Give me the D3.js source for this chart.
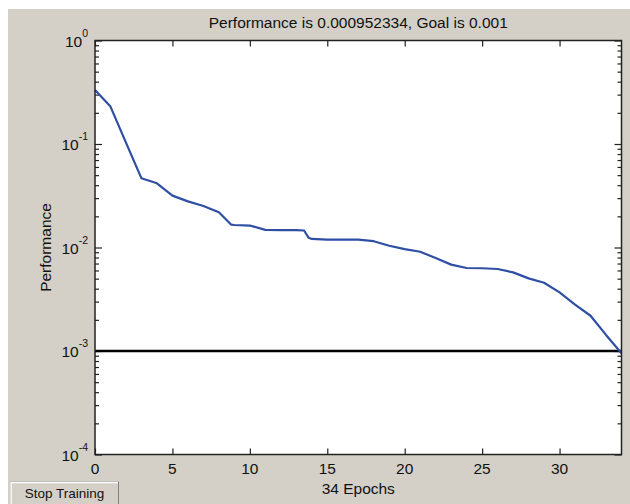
<!DOCTYPE html>
<html>
<head>
<meta charset="utf-8">
<script src="https://cdn.jsdelivr.net/npm/d3@7"></script>
<style>
  html, body { margin: 0; padding: 0; background: #ffffff; }
  svg { display: block; font-family: "Liberation Sans", Arial, sans-serif; }
</style>
</head>
<body>
<svg id="chart" width="630" height="504"></svg>
<script>
// ---- data ----
const epochs = [0,1,2,3,4,5,6,7,8,8.8,9,10,11,12,13,13.5,13.8,14,15,16,17,18,19,20,21,22,23,24,25,26,27,28,29,30,31,32,33,34];
const performance = [0.333, 0.23, 0.103, 0.0466, 0.0417, 0.0317, 0.0279, 0.0252, 0.0219, 0.0166, 0.0165,
  0.0163, 0.0148, 0.0147, 0.0147, 0.0146, 0.0124, 0.0121, 0.0119, 0.0119, 0.0119, 0.0115, 0.0104,
  0.00966, 0.0091, 0.0079, 0.00683, 0.00634, 0.0063, 0.0062, 0.00575, 0.00503, 0.00457,
  0.00368, 0.0028, 0.00219, 0.00143, 0.000952334];
const goal = 0.001;
const xTicks = [0, 5, 10, 15, 20, 25, 30];
const yDecades = [-4, -3, -2, -1, 0];
const titleText = "Performance is 0.000952334, Goal is 0.001";
const xLabel = "34 Epochs";
const yLabel = "Performance";
const buttonLabel = "Stop Training";

// ---- layout ----
const W = 630, H = 504;
const L = 95, R = 621.5, T = 40.5, B = 454.5;
const svg = d3.select("#chart");

// figure background
svg.append("rect").attr("x", 8).attr("y", 9).attr("width", W - 8).attr("height", H - 9).attr("fill", "#d4d0c8");
// plot background
svg.append("rect").attr("x", L).attr("y", T).attr("width", R - L).attr("height", B - T).attr("fill", "#ffffff");

const x = d3.scaleLinear().domain([0, 34]).range([L, R]);
const y = d3.scaleLog().domain([1e-4, 1]).range([B, T]);

const majorVals = yDecades.map(d => Math.pow(10, d));
const minorVals = [];
yDecades.slice(0, -1).forEach(d => { for (let m = 2; m <= 9; m++) minorVals.push(m * Math.pow(10, d)); });

const axisColor = "#222";
function styleAxis(g) {
  g.select(".domain").remove();
  g.selectAll(".tick line").attr("stroke", axisColor).attr("stroke-width", 1.2);
  g.selectAll(".tick text").remove();
}

// x ticks (bottom and top, inside)
svg.append("g").attr("transform", `translate(0,${B})`)
  .call(d3.axisBottom(x).tickValues(xTicks).tickSize(-6).tickFormat("")).call(styleAxis);
svg.append("g").attr("transform", `translate(0,${T})`)
  .call(d3.axisTop(x).tickValues(xTicks).tickSize(-6).tickFormat("")).call(styleAxis);
// y ticks (left and right, inside)
svg.append("g").attr("transform", `translate(${L},0)`)
  .call(d3.axisLeft(y).tickValues(majorVals).tickSize(-7).tickFormat("")).call(styleAxis);
svg.append("g").attr("transform", `translate(${L},0)`)
  .call(d3.axisLeft(y).tickValues(minorVals).tickSize(-4).tickFormat("")).call(styleAxis);
svg.append("g").attr("transform", `translate(${R},0)`)
  .call(d3.axisRight(y).tickValues(majorVals).tickSize(-7).tickFormat("")).call(styleAxis);
svg.append("g").attr("transform", `translate(${R},0)`)
  .call(d3.axisRight(y).tickValues(minorVals).tickSize(-4).tickFormat("")).call(styleAxis);

// goal line
svg.append("line")
  .attr("x1", x(0)).attr("x2", x(34)).attr("y1", y(goal)).attr("y2", y(goal))
  .attr("stroke", "#000").attr("stroke-width", 2.6);

// performance line
const line = d3.line().x((d, i) => x(epochs[i])).y(d => y(d));
svg.append("path").datum(performance)
  .attr("d", line).attr("fill", "none")
  .attr("stroke", "#2f4fa5").attr("stroke-width", 2.2).attr("stroke-linejoin", "round");

// frame
svg.append("rect").attr("x", L).attr("y", T).attr("width", R - L).attr("height", B - T)
  .attr("fill", "none").attr("stroke", axisColor).attr("stroke-width", 1.5);

// x tick labels
svg.append("g").selectAll("text").data(xTicks).join("text")
  .attr("x", d => x(d)).attr("y", B + 19)
  .attr("text-anchor", "middle").attr("font-size", 15.5).attr("fill", "#111")
  .text(d => d);

// y tick labels with superscripts
const yl = svg.append("g").selectAll("text").data(yDecades).join("text")
  .attr("x", 88).attr("y", d => y(Math.pow(10, d)) + 6)
  .attr("text-anchor", "end").attr("fill", "#111");
yl.append("tspan").attr("font-size", 15.5).text("10");
yl.append("tspan").attr("font-size", 10.5).attr("dy", -10).text(d => d);

// title
svg.append("text").attr("x", (L + R) / 2).attr("y", 28)
  .attr("text-anchor", "middle").attr("font-size", 15.5).attr("fill", "#111").text(titleText);
// x label
svg.append("text").attr("x", (L + R) / 2).attr("y", 494)
  .attr("text-anchor", "middle").attr("font-size", 15.5).attr("fill", "#111").text(xLabel);
// y label
svg.append("text").attr("transform", `translate(51,${(T + B) / 2}) rotate(-90)`)
  .attr("text-anchor", "middle").attr("font-size", 15.5).attr("fill", "#111").text(yLabel);

// button
const btn = svg.append("g");
btn.append("rect").attr("x", 10.5).attr("y", 482).attr("width", 108).attr("height", 24)
  .attr("fill", "#d4d0c8").attr("stroke", "#808080").attr("stroke-width", 1);
btn.append("path").attr("d", "M11,505 V482.5 H118").attr("fill", "none").attr("stroke", "#ffffff").attr("stroke-width", 1.5);
btn.append("text").attr("x", 64.5).attr("y", 497.5).attr("text-anchor", "middle")
  .attr("font-size", 13.5).attr("fill", "#111").text(buttonLabel);
</script>
</body>
</html>
